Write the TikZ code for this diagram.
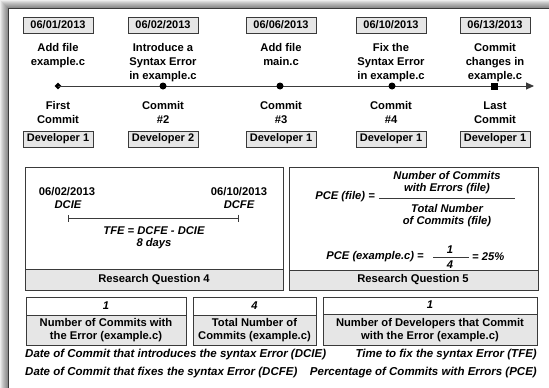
\documentclass[tikz,border=0pt]{standalone}
\usepackage{fontspec}
\setmainfont{Liberation Sans}
\usetikzlibrary{arrows.meta,shapes.geometric}
\definecolor{boxfill}{HTML}{E6E6E6}
\definecolor{edge}{HTML}{3A3A3A}
\tikzset{
  txt/.style={inner sep=0pt, align=center, font=\bfseries\fontsize{11.2}{14}\selectfont},
  itx/.style={inner sep=0pt, align=center, font=\bfseries\itshape\fontsize{11.2}{12.2}\selectfont},
  tag/.style={draw=edge, fill=boxfill, line width=0.8pt, minimum width=70pt,
              minimum height=16pt, inner sep=0pt, font=\bfseries\fontsize{11}{12}\selectfont},
  panel/.style={draw=edge, line width=0.8pt},
  band/.style={draw=edge, fill=boxfill, line width=0.8pt},
  dotmark/.style={circle, fill=black, inner sep=0pt, minimum size=7pt},
  firstmark/.style={diamond, fill=black, inner sep=0pt, minimum size=7pt},
  lastmark/.style={rectangle, fill=black, inner sep=0pt, minimum size=7pt},
  timeline/.style={draw=edge, line width=0.9pt, -{Triangle[length=8pt,width=7pt]}},
}
\begin{document}
\begin{tikzpicture}[x=1pt,y=-1pt]
\useasboundingbox (0,0) rectangle (549,388);
% soft shadow round the outer frame
\foreach \i in {1,...,8}
  \draw[black, opacity=0.07, line width=2*\i pt] (8,8) rectangle (620,460);
\fill[white] (8,8) rectangle (620,460);
\draw[edge, line width=0.9pt] (8,8) rectangle (620,460);

% ---- timeline: dates, actions, markers, commits, developers
\node[tag] (date1) at (58,25)  {06/01/2013};
\node[tag] (date2) at (163,25) {06/02/2013};
\node[tag] (date3) at (281,25) {06/06/2013};
\node[tag] (date4) at (391,25) {06/10/2013};
\node[tag] (date5) at (495,25) {06/13/2013};

\node[txt, anchor=north] (act1) at (58,43.5)  {Add file\\example.c};
\node[txt, anchor=north] (act2) at (163,43.5) {Introduce a\\Syntax Error\\in example.c};
\node[txt, anchor=north] (act3) at (281,43.5) {Add file\\main.c};
\node[txt, anchor=north] (act4) at (391,43.5) {Fix the\\Syntax Error\\in example.c};
\node[txt, anchor=north] (act5) at (495,43.5) {Commit\\changes in\\example.c};

\coordinate (tip) at (534,86);
\node[firstmark] (m1) at (58,86) {};
\draw[timeline] (m1.center) -- (tip);
\node[dotmark] (m2) at (163,86) {};
\node[dotmark] (m3) at (280,86) {};
\node[dotmark] (m4) at (392,86) {};
\node[lastmark] (m5) at (494,86) {};

\node[txt, anchor=north] (com1) at (58,101.5)  {First\\Commit};
\node[txt, anchor=north] (com2) at (163,101.5) {Commit\\\#2};
\node[txt, anchor=north] (com3) at (281,101.5) {Commit\\\#3};
\node[txt, anchor=north] (com4) at (391,101.5) {Commit\\\#4};
\node[txt, anchor=north] (com5) at (495,101.5) {Last\\Commit};

\node[tag] (dev1) at (58,139)  {Developer 1};
\node[tag] (dev2) at (163,139) {Developer 2};
\node[tag] (dev3) at (281,139) {Developer 1};
\node[tag] (dev4) at (391,139) {Developer 1};
\node[tag] (dev5) at (495,139) {Developer 1};

% ---- Research Question 4
\draw[band] (25,269) rectangle (283,290);
\draw[panel] (25,167) rectangle (283,290);
\node[txt] (rq4) at (154,280) {Research Question 4};
\node[txt] (dcieDate) at (67,192) {06/02/2013};
\node[itx] (dcie) at (68,205) {DCIE};
\node[txt] (dcfeDate) at (239,192) {06/10/2013};
\node[itx] (dcfe) at (239,205) {DCFE};
\coordinate (tfeL) at (68,218);
\coordinate (tfeR) at (239,218);
\draw[edge, line width=0.9pt, {Bar[width=7pt]}-{Bar[width=7pt]}] (tfeL) -- (tfeR);
\node[itx] (tfe) at (154,231) {TFE = DCFE - DCIE};
\node[itx] (days) at (154,243.5) {8 days};

% ---- Research Question 5
\draw[band] (289,270) rectangle (538,290);
\draw[panel] (289,167) rectangle (538,290);
\node[txt] (rq5) at (413,280) {Research Question 5};
\node[itx, anchor=east] (pcefile) at (375,197) {PCE (file) =};
\coordinate (fracL) at (379,198);
\coordinate (fracR) at (515,198);
\draw[edge, line width=0.9pt] (fracL) -- (fracR);
\node[itx] (numer) at (447,183) {Number of Commits\\with Errors (file)};
\node[itx] (denom) at (447,216) {Total Number\\of Commits (file)};
\node[itx, anchor=east] (pceex) at (424,257) {PCE (example.c) =};
\coordinate (smallL) at (433,257);
\coordinate (smallR) at (469,257);
\draw[edge, line width=0.9pt] (smallL) -- (smallR);
\node[itx] (one) at (450,250) {1};
\node[itx] (four) at (450,264.5) {4};
\node[itx, anchor=west] (pct) at (472,257) {= 25\%};

% ---- counts
\draw[band] (26,315) rectangle (186,345);
\draw[panel] (26,297) rectangle (186,345);
\node[itx] (n1) at (106,306) {1};
\node[txt, font=\bfseries\fontsize{11.2}{13}\selectfont] (l1) at (106,330.5) {Number of Commits with\\the Error (example.c)};

\draw[band] (193,315) rectangle (316,345);
\draw[panel] (193,297) rectangle (316,345);
\node[itx] (n2) at (254.5,306) {4};
\node[txt, font=\bfseries\fontsize{11.2}{13}\selectfont] (l2) at (254.5,330.5) {Total Number of\\Commits (example.c)};

\draw[band] (323,314) rectangle (537,345);
\draw[panel] (323,297) rectangle (537,345);
\node[itx] (n3) at (430,305) {1};
\node[txt, font=\bfseries\fontsize{11.2}{13}\selectfont] (l3) at (430,330.5) {Number of Developers that Commit\\with the Error (example.c)};

% ---- legend
\node[itx, font=\bfseries\itshape\fontsize{11.5}{12}\selectfont, anchor=base west] (lg1) at (25,357) {Date of Commit that introduces the syntax Error (DCIE)};
\node[itx, font=\bfseries\itshape\fontsize{11.5}{12}\selectfont, anchor=base west] (lg2) at (25,375) {Date of Commit that fixes the syntax Error (DCFE)};
\node[itx, font=\bfseries\itshape\fontsize{11.5}{12}\selectfont, anchor=base east] (lg3) at (537,357) {Time to fix the syntax Error (TFE)};
\node[itx, font=\bfseries\itshape\fontsize{11.5}{12}\selectfont, anchor=base east] (lg4) at (537,375) {Percentage of Commits with Errors (PCE)};
\end{tikzpicture}
\end{document}
